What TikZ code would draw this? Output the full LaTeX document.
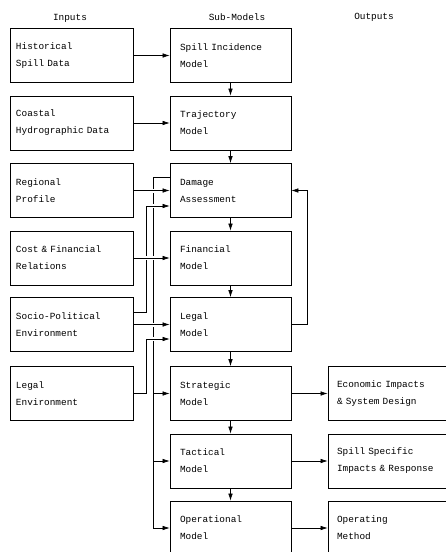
\documentclass[tikz,border=0pt]{standalone}
\usepackage{fontspec}
\setmainfont{Liberation Mono}
\usetikzlibrary{arrows.meta,calc}
\tikzset{
  box/.style={draw, line width=0.7pt, minimum height=54pt, align=left, font=\fontsize{9.4}{17}\selectfont},
  inbox/.style={box, text width=111pt, inner xsep=6pt},
  modbox/.style={box, text width=101pt, inner xsep=10pt},
  outbox/.style={box, text width=103pt, inner xsep=9pt},
  head/.style={font=\fontsize{9.4}{11}\selectfont},
  arr/.style={line width=0.6pt, -{Latex[length=7pt,width=4.5pt]}},
  link/.style={line width=0.6pt},
  hop/.style={preaction={draw=white, line width=4pt, -, shorten <=2pt, shorten >=2pt}},
}
\begin{document}
\begin{tikzpicture}[x=1pt, y=-1pt]
  \useasboundingbox (0,0) rectangle (445,552);
  % column heads
  \node[head] (hin)  at (70,18)  {Inputs};
  \node[head] (hsub) at (237,17) {Sub-Models};
  \node[head] (hout) at (374,17) {Outputs};
  % inputs
  \node[inbox] (hist)   at (71.5,55.5) {Historical\\Spill Data};
  \node[inbox] (coast)  at (71.5,123)  {Coastal\\Hydrographic Data};
  \node[inbox] (region) at (71.5,190.5) {Regional\\Profile};
  \node[inbox] (cost)   at (71.5,258)  {Cost \& Financial\\Relations};
  \node[inbox] (socio)  at (71.5,324.5) {Socio-Political\\Environment};
  \node[inbox] (legenv) at (71.5,393.5) {Legal\\Environment};
  % sub-models
  \node[modbox] (spill) at (230.5,55.5) {Spill Incidence\\Model};
  \node[modbox] (traj)  at (230.5,123)  {Trajectory\\Model};
  \node[modbox] (dmg)   at (230.5,190.5) {Damage\\Assessment};
  \node[modbox] (fin)   at (230.5,258)  {Financial\\Model};
  \node[modbox] (legal) at (230.5,324.5) {Legal\\Model};
  \node[modbox] (strat) at (230.5,393.5) {Strategic\\Model};
  \node[modbox] (tact)  at (230.5,461)  {Tactical\\Model};
  \node[modbox] (oper)  at (230.5,528)  {Operational\\Model};
  % outputs
  \node[outbox] (econ)  at (388.5,393.5) {Economic Impacts\\\& System Design};
  \node[outbox] (resp)  at (388.5,461)  {Spill Specific\\Impacts \& Response};
  \node[outbox] (meth)  at (388.5,528)  {Operating\\Method};
  % main chain
  \draw[arr] (hist) -- (spill);
  \draw[arr] (coast) -- (traj);
  \draw[arr] (spill) -- (traj);
  \draw[arr] (traj) -- (dmg);
  \draw[arr] (dmg) -- (fin);
  \draw[arr] (fin) -- (legal);
  \draw[arr] (legal) -- (strat);
  \draw[arr] (strat) -- (tact);
  \draw[arr] (tact) -- (oper);
  \draw[arr] (strat) -- (econ);
  \draw[arr] (tact) -- (resp);
  \draw[arr] (oper) -- (meth);
  % damage assessment feeds the lower models
  \coordinate (dmgout) at ($(dmg.west)+(0,-13.5)$);
  \draw[link] (dmgout) -- ++(-16,0) coordinate (bus);
  \draw[arr] (bus) |- (oper.west);
  \draw[arr] (bus |- strat.west) -- (strat.west);
  \draw[arr] (bus |- tact.west) -- (tact.west);
  % feedback
  \draw[arr] (legal.east) -- ++(16,0) |- (dmg.east);
  % inputs crossing the bus
  \coordinate (dmgin) at ($(dmg.west)+(0,15.5)$);
  \coordinate (spout) at ($(socio.east)+(0,-12.5)$);
  \draw[arr,hop] (spout) -- ++(13,0) |- (dmgin);
  \coordinate (legin) at ($(legal.west)+(0,14.5)$);
  \draw[arr,hop] (legenv.east) -- ++(13,0) |- (legin);
  \draw[arr,hop] (region) -- (dmg);
  \draw[arr,hop] (cost) -- (fin);
  \draw[arr,hop] (socio) -- (legal);
\end{tikzpicture}
\end{document}
